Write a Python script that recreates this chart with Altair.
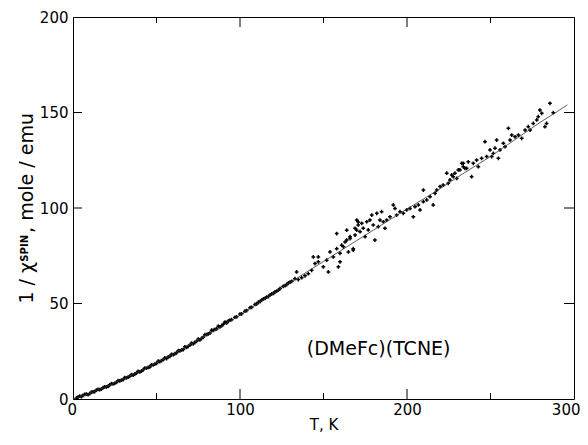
import altair as alt
import pandas as pd

# ---------------- data ----------------
T_pts = [2, 3, 4, 5, 6, 7, 8, 9, 10, 11, 12, 13, 14, 15, 16, 17, 18, 19, 20, 21, 22, 23, 24, 25,
         26, 27, 28, 29, 30, 31, 32, 33, 34, 35, 36, 37, 38, 39, 40, 41, 42, 43, 44, 45, 46, 47,
         48, 49, 50, 51, 52, 53, 54, 55, 56, 57, 58, 59, 60, 61, 62, 63, 64, 65, 66, 67, 68, 69,
         70, 71, 72, 73, 74, 75, 76, 77, 78, 79, 80, 81, 82, 83, 84, 85, 86, 87, 88, 89, 90, 91,
         92, 93, 94,
         95.0, 97.0, 98.0, 100.0, 101.0, 103.0, 104.0, 106.0, 107.0, 109.0, 110.0, 111.0, 112.0,
         113.0, 114.0, 115.0, 116.0, 117.0, 118.0, 119.0, 120.0, 121.0, 122.0, 123.0, 124.0,
         125.9, 127.0, 128.0, 129.0, 130.0, 131.0, 132.9, 133.9, 134.9, 136.9, 138.9, 140.9,
         142.9, 143.9, 144.9, 146.9, 146.9, 149.9, 151.9, 152.9, 153.9, 155.9, 157.9, 157.9,
         158.9, 159.9, 160.9, 162.9, 163.9, 164.9, 165.9, 167.8, 168.9, 169.9, 170.8,
         159.9, 161.9, 163.9, 165.9, 167.8, 168.9, 169.9, 170.8, 171.9, 172.9, 173.8, 174.9,
         175.9, 176.8, 177.8, 178.9, 179.8, 180.8, 181.9, 182.8, 183.8, 184.8, 185.8, 186.8,
         187.8, 189.8, 191.8, 192.8, 193.8, 195.8, 197.8, 199.8, 201.8, 203.8, 204.8, 206.8,
         207.8, 209.8, 209.8, 211.8, 213.8, 215.7, 216.8, 217.8, 219.8, 221.7, 223.8, 224.7,
         225.7, 227.7, 229.8, 231.7, 233.7, 234.7,
         226.8, 228.7, 230.7, 232.8, 233.7, 235.7, 236.7, 238.7, 239.7, 241.7, 242.7, 244.7,
         246.7, 247.7, 249.7, 250.7, 251.7, 252.7, 253.7, 254.7, 255.7, 257.7, 258.7, 260.7,
         261.7, 262.7, 264.7, 266.7, 268.7, 270.7, 272.6, 273.7, 275.6, 277.7, 278.6, 279.6,
         280.7, 282.6, 283.6, 285.6, 287.6]
chi_pts = [0.4, 1.0, 1.5, 1.2, 1.9, 2.4, 2.6, 2.3, 2.8, 3.6, 3.7, 3.9, 4.6, 5.0, 4.9, 5.2, 5.9,
           6.4, 6.3, 6.6, 7.4, 8.0, 7.9, 8.2, 8.7, 9.6, 9.5, 9.9, 10.2, 11.2, 11.1, 11.4, 11.9,
           12.8, 12.5, 13.0, 13.6, 14.5, 14.2, 14.6, 15.3, 16.2, 16.1, 16.5, 16.8, 17.9, 17.8,
           18.2, 18.6, 19.8, 19.6, 20.1, 20.6, 21.5, 21.2, 22.0, 22.3, 23.4, 23.2, 23.7, 24.2,
           25.3, 25.2, 25.7, 25.9, 27.3, 27.0, 27.6, 28.2, 29.3, 28.9, 29.7, 30.2, 31.4, 30.9,
           31.8, 32.3, 33.7, 33.7, 34.1, 34.5, 36.0, 35.9, 36.4, 36.7, 38.1, 37.7, 38.4, 39.1,
           40.3, 39.8, 40.8, 41.3,
           41.5, 42.8, 43.0, 44.5, 44.6, 46.0, 46.3, 47.8, 48.0, 49.5, 49.8, 50.7, 51.0, 51.8,
           52.4, 52.7, 53.4, 53.6, 54.5, 55.0, 55.3, 56.1, 56.5, 57.0, 57.9, 59.0, 59.4, 59.9,
           60.8, 61.2, 61.6, 63.0, 66.5, 62.5, 63.5, 64.5, 65.6, 67.4, 74.4, 70.9, 74.4, 71.8,
           69.2, 72.7, 66.5, 77.0, 74.4, 86.6, 78.7, 69.2, 71.8, 80.5, 82.2, 88.4, 77.0, 84.0,
           78.7, 85.8, 88.4, 92.7,
           76.3, 79.7, 83.2, 85.0, 78.0, 89.4, 93.7, 91.1, 87.6, 92.0, 89.4, 85.0, 92.8, 88.5,
           93.7, 96.3, 91.1, 83.2, 97.2, 90.2, 93.7, 98.1, 92.8, 89.4, 93.7, 95.4, 101.6, 99.8,
           96.3, 98.1, 97.2, 99.0, 99.8, 95.4, 100.7, 101.6, 99.0, 109.4, 103.3, 104.2, 105.9,
           101.6, 107.7, 109.4, 111.2, 112.0, 118.2, 112.9, 114.7, 116.4, 115.5, 119.9, 123.4,
           120.8,
           117.3, 118.2, 119.9, 123.4, 121.6, 120.8, 124.2, 116.4, 123.4, 125.1, 121.6, 126.0,
           134.7, 126.9, 130.4, 126.9, 128.6, 131.3, 135.6, 126.0, 130.4, 133.9, 132.1, 141.7,
           135.6, 138.2, 137.3, 138.2, 136.5, 140.8, 142.6, 140.8, 144.3, 146.1, 147.8, 151.3,
           149.6, 142.6, 144.3, 154.8, 149.9]

T_fit = [0, 10, 20, 30, 40, 50, 60, 70, 80, 90, 100, 110, 120, 130, 140, 150, 160, 170, 180,
         190, 200, 210, 220, 230, 240, 250, 260, 270, 280, 290, 296]
chi_fit = [0, 3, 6.5, 10.5, 14.5, 19, 23.5, 28.5, 33.5, 38.5, 44, 49.7, 55.3, 61, 66.5, 72,
           77.5, 83, 88.5, 94, 99.5, 104.8, 110.2, 116, 121.5, 127, 133, 139, 145, 150.5, 154]

x_major_ticks = [100, 200]
x_minor_ticks = [50, 150, 250]
y_ticks = [50, 100, 150]
x_labels = [0, 100, 200, 300]
y_labels = [0, 50, 100, 150, 200]
x_range = [0, 300]
y_range = [0, 200]

label_text = ["(DMeFc)(TCNE)"]
label_T = [140]
label_chi = [26]

ytitle_a = "1 / χ"
ytitle_b = "SPIN"
ytitle_c = ", mole / emu"
xtitle = "T, K"

# ---------------- chart ----------------
W, H = 501, 382
FONT = "DejaVu Sans"

pts = pd.DataFrame({"T": T_pts, "chi": chi_pts})
fit = pd.DataFrame({"T": T_fit, "chi": chi_fit})

# tick lengths (pixels) expressed in data units of each axis
px_x = (x_range[1] - x_range[0]) / W
px_y = (y_range[1] - y_range[0]) / H
segs = []
k = 0
for t, L in [(v, 10) for v in x_major_ticks] + [(v, 6) for v in x_minor_ticks]:
    segs += [(k, t, y_range[0]), (k, t, y_range[0] + L * px_y)]
    k += 1
    segs += [(k, t, y_range[1]), (k, t, y_range[1] - L * px_y)]
    k += 1
for c in y_ticks:
    segs += [(k, x_range[0], c), (k, x_range[0] + 9 * px_x, c)]
    k += 1
    segs += [(k, x_range[1], c), (k, x_range[1] - 10 * px_x, c)]
    k += 1
ticks = pd.DataFrame(segs, columns=["id", "T", "chi"])

xs = alt.Scale(domain=x_range, nice=False, zero=False)
ys = alt.Scale(domain=y_range, nice=False, zero=False)

x_axis = alt.Axis(values=x_labels, title=xtitle, grid=False, ticks=False, domain=False,
                  labelFlush=True, labelFlushOffset=6, labelFont=FONT, labelFontSize=15,
                  labelColor="black", titleFont=FONT, titleColor="black",
                  labelPadding=3, titlePadding=0, titleFontSize=15, titleFontWeight="normal")
y_axis = alt.Axis(values=y_labels, title=None, grid=False, ticks=False, domain=False,
                  labelFont=FONT, labelFontSize=15, labelColor="black",
                  labelFlush=False, labelPadding=5)


def X():
    return alt.X("T:Q", scale=xs, axis=x_axis, title=xtitle)


def Y():
    return alt.Y("chi:Q", scale=ys, axis=y_axis, title=None)


points = alt.Chart(pts).mark_point(shape="cross", filled=True, size=14, color="black",
                                   opacity=1).encode(x=X(), y=Y())

line = alt.Chart(fit).mark_line(color="#333333", strokeWidth=0.8).encode(x=X(), y=Y())

tick_lines = alt.Chart(ticks).mark_line(color="black", strokeWidth=1).encode(
    x=X(), y=Y(), detail="id:N")

ann = alt.Chart(pd.DataFrame({"T": label_T, "chi": label_chi, "txt": label_text})).mark_text(
    align="left", baseline="middle", font=FONT, fontSize=19, color="black"
).encode(x=X(), y=Y(), text="txt:N")

one = pd.DataFrame({"k": [0]})
title_common = dict(angle=270, baseline="alphabetic", font=FONT, color="black")
ya = alt.Chart(one).mark_text(align="right", fontSize=19, **title_common).encode(
    x=alt.value(-40), y=alt.value(245), text=alt.value(ytitle_a))
yb = alt.Chart(one).mark_text(align="right", fontSize=10, fontWeight="bold", **title_common).encode(
    x=alt.value(-45), y=alt.value(218), text=alt.value(ytitle_b))
yc = alt.Chart(one).mark_text(align="right", fontSize=19, **title_common).encode(
    x=alt.value(-40), y=alt.value(96), text=alt.value(ytitle_c))

chart = alt.layer(points, line, tick_lines, ann, ya, yb, yc).properties(
    width=W, height=H,
    background="white",
    autosize=alt.AutoSizeParams(type="none"),
    padding={"left": 65, "top": 9, "right": 6, "bottom": 37},
).configure_view(
    stroke="black", strokeWidth=1
).configure_axis(
    ticks=False, domain=False, grid=False,
    labelFont=FONT, labelFontSize=15, labelColor="black",
    titleFont=FONT, titleColor="black",
)

chart.save("out.html", embed_options={"renderer": "svg", "actions": False})
